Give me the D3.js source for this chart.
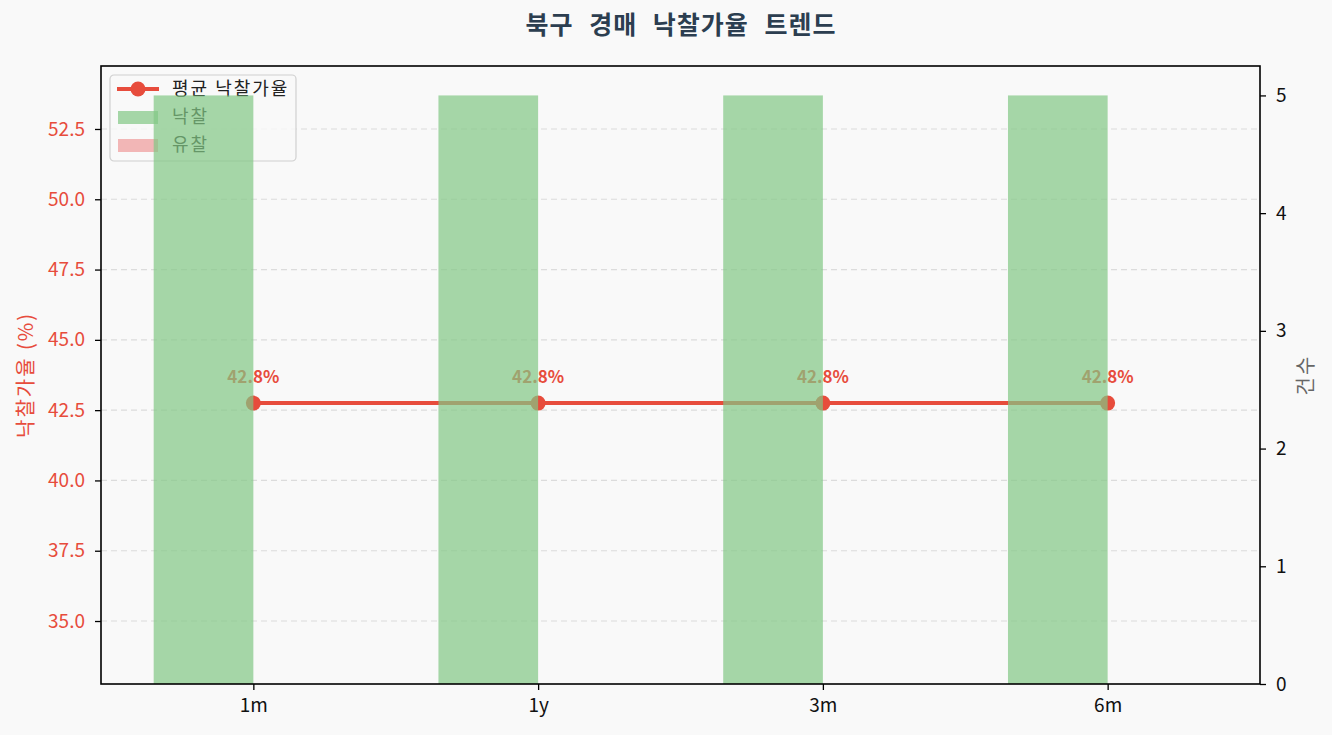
<!DOCTYPE html>
<html>
<head>
<meta charset="utf-8">
<script src="https://cdn.jsdelivr.net/npm/d3@7"></script>
<style>
  body { margin: 0; background: #f9f9f9; }
  text { font-family: "Noto Sans CJK KR", "Noto Sans", sans-serif; }
</style>
</head>
<body>
<svg id="chart"></svg>
<script>
// data
const periods = ["1m", "1y", "3m", "6m"];
const avgRate = [42.75, 42.75, 42.75, 42.75];
const wonCount = [5, 5, 5, 5];
const failCount = [0, 0, 0, 0];
const rateTicks = [35.0, 37.5, 40.0, 42.5, 45.0, 47.5, 50.0, 52.5];
const countTicks = [0, 1, 2, 3, 4, 5];

const W = 1332, H = 735;
const margin = { top: 66, right: 72, bottom: 51, left: 101 };
const width = W - margin.left - margin.right;
const height = H - margin.top - margin.bottom;

const red = "#e74c3c";
const barWidth = 0.35;

const svg = d3.select("#chart")
    .attr("width", W)
    .attr("height", H);

svg.append("rect").attr("width", W).attr("height", H).attr("fill", "#f9f9f9");

// Title
svg.append("text")
    .attr("x", 681)
    .attr("y", 34)
    .attr("text-anchor", "middle")
    .attr("font-size", "25px")
    .attr("font-weight", "bold")
    .attr("letter-spacing", "1px")
    .attr("word-spacing", "9px")
    .attr("fill", "#2c3e50")
    .text("북구 경매 낙찰가율 트렌드");

const g = svg.append("g")
    .attr("transform", `translate(${margin.left},${margin.top})`);

// Scales
const x = d3.scaleLinear()
    .domain([-0.535, periods.length - 1 + 0.535])
    .range([0, width]);

const y = d3.scaleLinear()
    .domain([32.76, 54.74])
    .range([height, 0]);

const y2 = d3.scaleLinear()
    .domain([0, 5.25])
    .range([height, 0]);

// Grid lines (left axis)
g.append("g")
    .selectAll("line")
    .data(rateTicks)
    .enter().append("line")
    .attr("x1", 0)
    .attr("x2", width)
    .attr("y1", d => y(d))
    .attr("y2", d => y(d))
    .attr("stroke", "#dcdcdc")
    .attr("stroke-width", 1.2)
    .attr("stroke-dasharray", "6,4");

// Average rate line
const line = d3.line()
    .x((d, i) => x(i))
    .y(d => y(d));

g.append("path")
    .datum(avgRate)
    .attr("fill", "none")
    .attr("stroke", red)
    .attr("stroke-width", 4)
    .attr("d", line);

g.selectAll(".dot")
    .data(avgRate)
    .enter().append("circle")
    .attr("class", "dot")
    .attr("cx", (d, i) => x(i))
    .attr("cy", d => y(d))
    .attr("r", 7.5)
    .attr("fill", red);

g.selectAll(".rate-label")
    .data(avgRate)
    .enter().append("text")
    .attr("class", "rate-label")
    .attr("x", (d, i) => x(i))
    .attr("y", d => y(d) - 20)
    .attr("text-anchor", "middle")
    .attr("font-size", "17px")
    .attr("font-weight", "bold")
    .attr("fill", red)
    .text(d => d.toFixed(1) + "%");

// Legend (belongs to the left axis, so bars are drawn over it)
const legend = g.append("g").attr("transform", "translate(9,9)");
legend.append("rect")
    .attr("width", 186)
    .attr("height", 86)
    .attr("rx", 4)
    .attr("fill", "#f9f9f9")
    .attr("fill-opacity", 0.8)
    .attr("stroke", "#d0d0d0")
    .attr("stroke-width", 1.2);

legend.append("line")
    .attr("x1", 7).attr("x2", 49)
    .attr("y1", 14).attr("y2", 14)
    .attr("stroke", red).attr("stroke-width", 4);
legend.append("circle")
    .attr("cx", 28).attr("cy", 14).attr("r", 7.5).attr("fill", red);
legend.append("rect")
    .attr("x", 8).attr("y", 36).attr("width", 40).attr("height", 13)
    .attr("fill", "#81c784").attr("fill-opacity", 0.7);
legend.append("rect")
    .attr("x", 8).attr("y", 64).attr("width", 40).attr("height", 13)
    .attr("fill", "#ef9a9a").attr("fill-opacity", 0.7);

const legendLabels = ["평균 낙찰가율", "낙찰", "유찰"];
legend.selectAll(".legend-text")
    .data(legendLabels)
    .enter().append("text")
    .attr("class", "legend-text")
    .attr("x", 62)
    .attr("y", (d, i) => 14 + i * 28)
    .attr("dy", "0.35em")
    .attr("font-size", "18px")
    .attr("letter-spacing", "2px")
    .attr("fill", "#222")
    .text(d => d);

// Bars (right axis, drawn on top)
g.selectAll(".bar-won")
    .data(wonCount)
    .enter().append("rect")
    .attr("class", "bar-won")
    .attr("x", (d, i) => x(i - barWidth))
    .attr("width", x(barWidth) - x(0))
    .attr("y", d => y2(d))
    .attr("height", d => height - y2(d))
    .attr("fill", "#81c784")
    .attr("fill-opacity", 0.7);

g.selectAll(".bar-fail")
    .data(failCount)
    .enter().append("rect")
    .attr("class", "bar-fail")
    .attr("x", (d, i) => x(i))
    .attr("width", x(barWidth) - x(0))
    .attr("y", d => y2(d))
    .attr("height", d => height - y2(d))
    .attr("fill", "#ef9a9a")
    .attr("fill-opacity", 0.7);

// Frame
g.append("rect")
    .attr("width", width)
    .attr("height", height)
    .attr("fill", "none")
    .attr("stroke", "#000")
    .attr("stroke-width", 1.6);

// X axis
const xAxis = g.append("g")
    .attr("transform", `translate(0,${height})`)
    .call(d3.axisBottom(x).tickValues(d3.range(periods.length)).tickFormat(i => periods[i]).tickSize(6).tickPadding(9));
xAxis.select(".domain").remove();
xAxis.selectAll("line").attr("stroke", "#000").attr("stroke-width", 1.3);
xAxis.selectAll("text").attr("font-size", "19px").attr("fill", "#111")
    .attr("font-family", "'Noto Sans CJK KR', sans-serif");

// Left axis
const yAxis = g.append("g")
    .call(d3.axisLeft(y).tickValues(rateTicks).tickFormat(d3.format(".1f")).tickSize(6).tickPadding(10));
yAxis.select(".domain").remove();
yAxis.selectAll("line").attr("stroke", "#000").attr("stroke-width", 1.3);
yAxis.selectAll("text").attr("font-size", "19px").attr("fill", red)
    .attr("font-family", "'Noto Sans CJK KR', sans-serif");

// Right axis
const y2Axis = g.append("g")
    .attr("transform", `translate(${width},0)`)
    .call(d3.axisRight(y2).tickValues(countTicks).tickFormat(d3.format("d")).tickSize(6).tickPadding(10));
y2Axis.select(".domain").remove();
y2Axis.selectAll("line").attr("stroke", "#000").attr("stroke-width", 1.3);
y2Axis.selectAll("text").attr("font-size", "19px").attr("fill", "#111")
    .attr("font-family", "'Noto Sans CJK KR', sans-serif");

// Axis labels
svg.append("text")
    .attr("transform", "rotate(-90)")
    .attr("x", -(margin.top + height / 2))
    .attr("y", 33)
    .attr("text-anchor", "middle")
    .attr("font-size", "20px")
    .attr("letter-spacing", "2px")
    .attr("fill", red)
    .text("낙찰가율 (%)");

svg.append("text")
    .attr("transform", "rotate(-90)")
    .attr("x", -(margin.top + height / 2))
    .attr("y", 1313)
    .attr("text-anchor", "middle")
    .attr("font-size", "20px")
    .attr("letter-spacing", "2px")
    .attr("fill", "#666")
    .text("건수");
</script>
</body>
</html>
